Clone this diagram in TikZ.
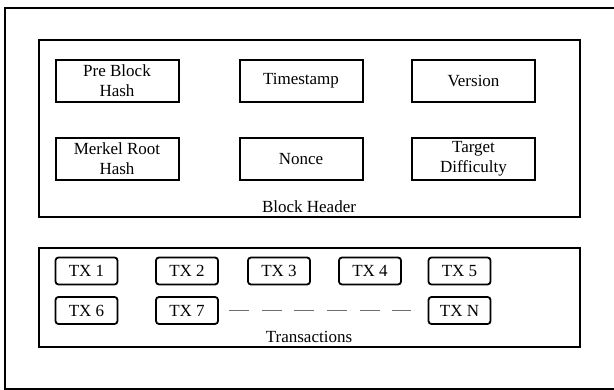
\documentclass[tikz,border=0pt]{standalone}
\usepackage{fontspec}
\setmainfont{Liberation Serif}
\begin{document}
\begin{tikzpicture}[x=1pt,y=-1pt,
  hbox/.style={draw, line width=2pt, minimum width=123pt, minimum height=42pt, inner sep=0pt, align=center, font=\fontsize{17}{20}\selectfont},
  txbox/.style={draw, line width=1.8pt, rounded corners=3pt, minimum width=62pt, minimum height=27pt, inner sep=0pt, font=\fontsize{17}{20}\selectfont},
  frame/.style={draw, line width=2pt},
  lbl/.style={inner sep=0pt, font=\fontsize{17}{20}\selectfont}]
\useasboundingbox (0,0) rectangle (614,390);
\draw[frame] (5,8) rectangle (618,389);
\draw[frame] (39,40) rectangle (580,217);
\draw[frame] (39,248) rectangle (580,347);
\node[hbox] (pbh) at (117,81) {Pre Block\\Hash};
\node[hbox] (ts) at (301,81) {Timestamp};
\node[hbox] (ver) at (473.5,81) {Version};
\node[hbox] (mrh) at (117,159) {Merkel Root\\Hash};
\node[hbox] (nonce) at (301,159) {Nonce};
\node[hbox] (td) at (473.5,159) {Target\\Difficulty};
\node[lbl] (bh) at (309,207) {Block Header};
\node[txbox] (tx1) at (86.5,271) {TX 1};
\node[txbox] (tx2) at (187,271) {TX 2};
\node[txbox] (tx3) at (279,271) {TX 3};
\node[txbox] (tx4) at (370,271) {TX 4};
\node[txbox] (tx5) at (459.5,271) {TX 5};
\node[txbox] (tx6) at (86.5,310.5) {TX 6};
\node[txbox] (tx7) at (187,310.5) {TX 7};
\node[txbox] (txn) at (459.5,310.5) {TX N};
\node[lbl] (trx) at (309,337) {Transactions};
\draw[line width=1.5pt, color={rgb,255:red,110;green,110;blue,110}, dash pattern=on 20pt off 12.7pt]
  ([xshift=10pt]tx7.east) -- ([xshift=-16.5pt]txn.west);
\end{tikzpicture}
\end{document}
